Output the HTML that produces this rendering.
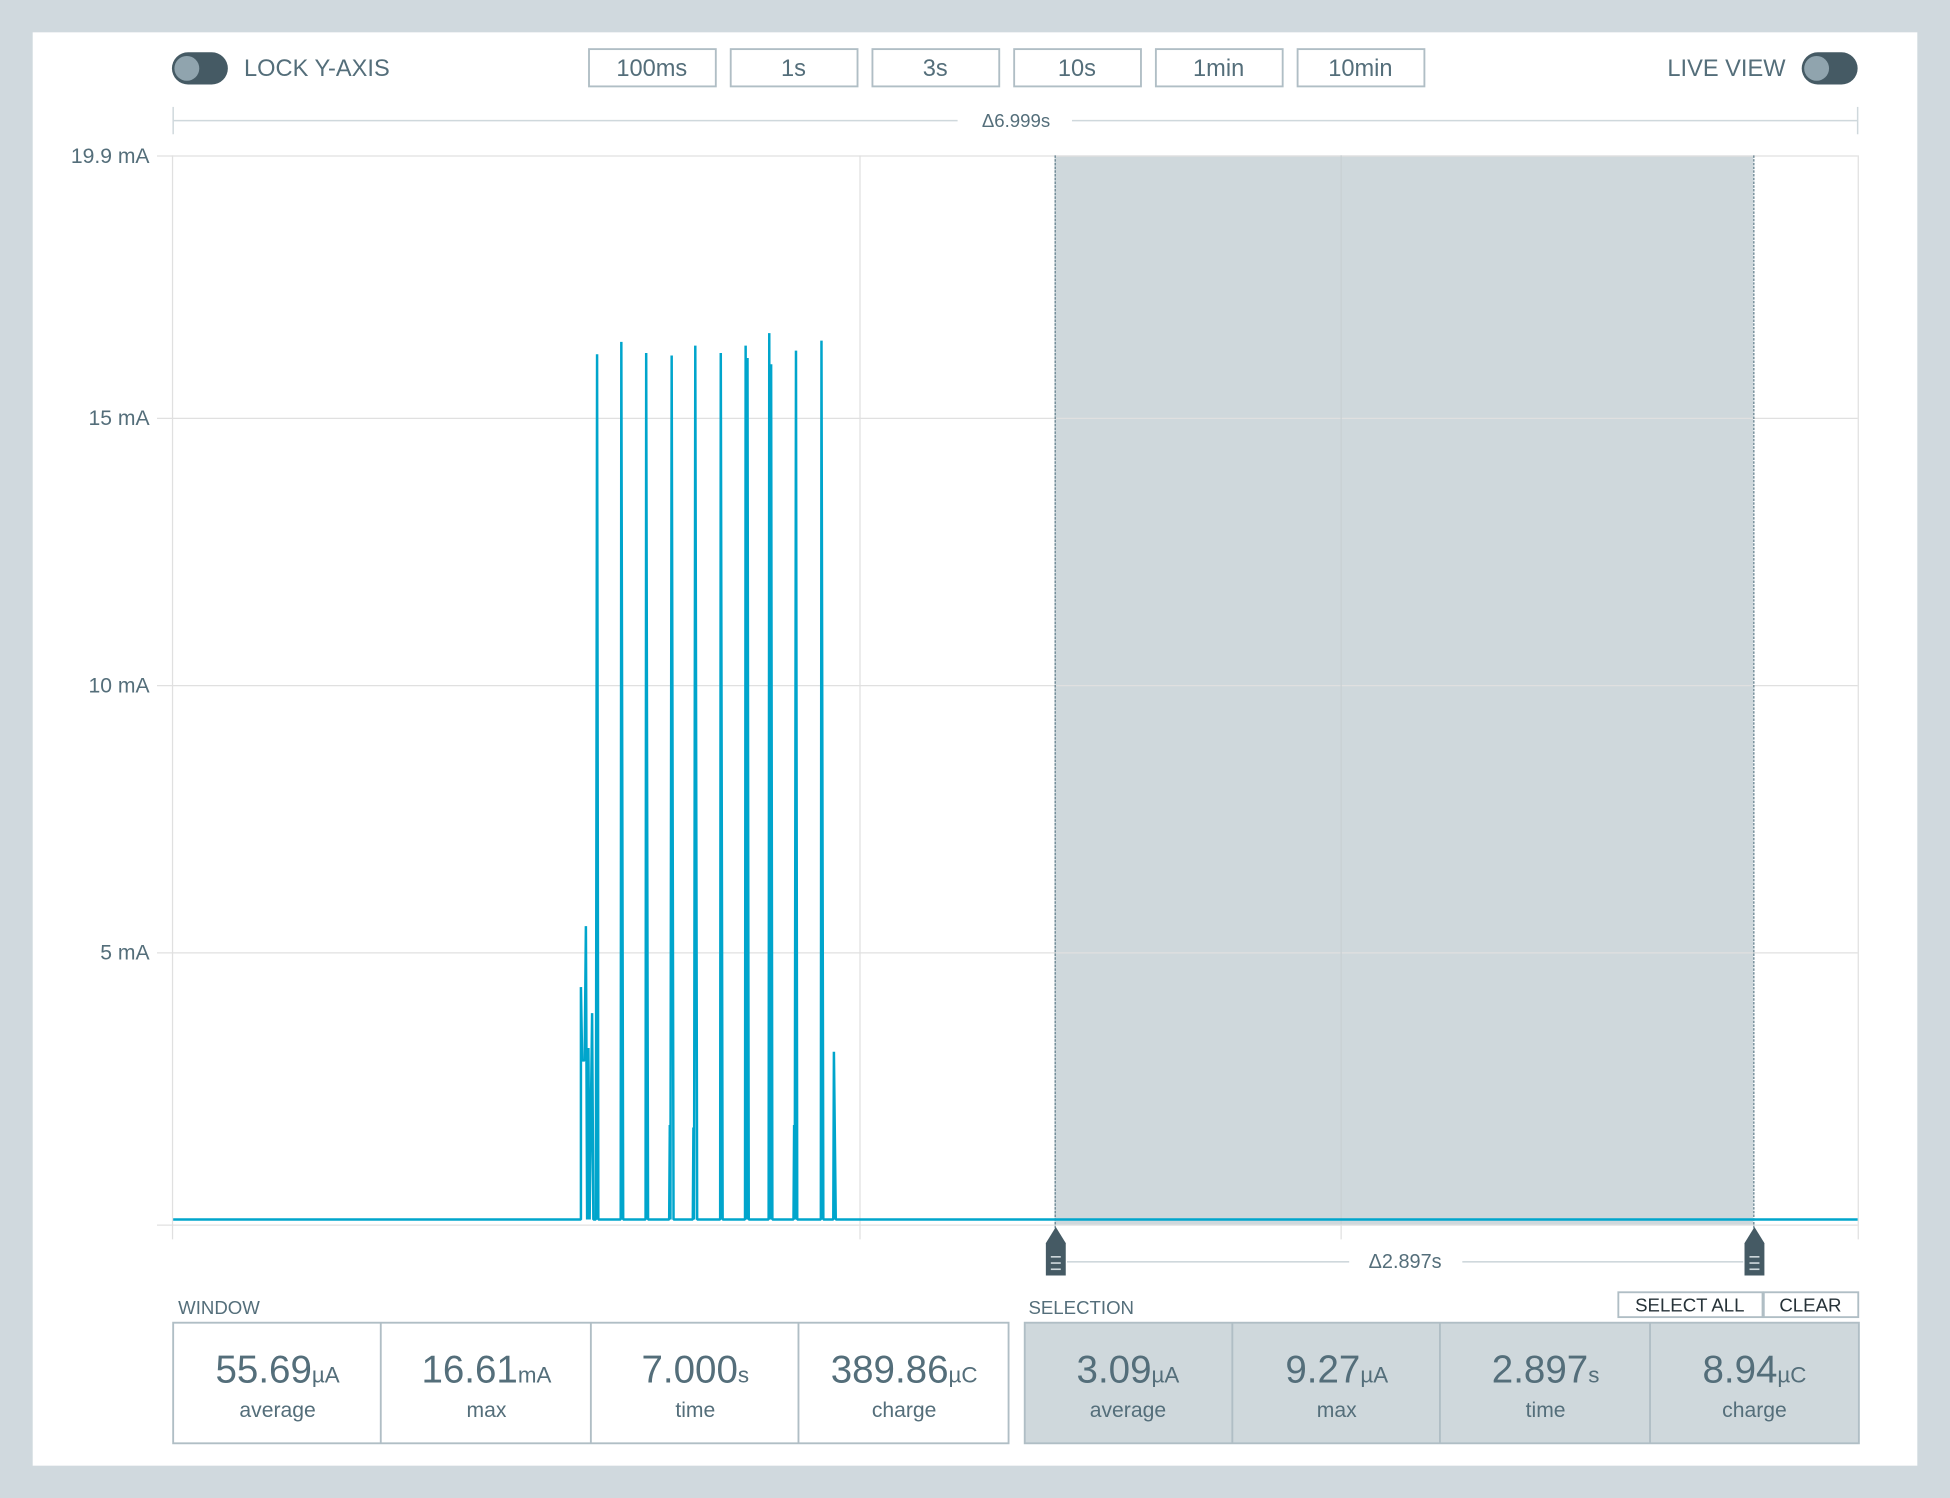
<!DOCTYPE html>
<html><head><style>html,body{margin:0;padding:0;background:#d0d9de}svg{display:block}text{font-family:"Liberation Sans",sans-serif}</style></head>
<body>
<svg width="1950" height="1498" viewBox="0 0 1568 1205" xmlns="http://www.w3.org/2000/svg">
<rect width="1568" height="1205" fill="#d0d9de"/>
<rect x="26" y="26" width="1516" height="1153" fill="#fff"/>
<!-- toggles -->
<rect x="138" y="42" width="45" height="26" rx="13" fill="#455a64"/>
<circle cx="150" cy="55" r="10" fill="#90a4ae"/>
<text x="196" y="61" font-size="19" fill="#546e7a">LOCK Y-AXIS</text>
<text x="1436" y="61" font-size="19" fill="#546e7a" text-anchor="end">LIVE VIEW</text>
<rect x="1449" y="42" width="45" height="26" rx="13" fill="#455a64"/>
<circle cx="1461" cy="55" r="10" fill="#90a4ae"/>
<g fill="#fff" stroke="#b0bec5" stroke-width="1.5">
<rect x="473.5" y="39.5" width="102" height="30"/><rect x="587.5" y="39.5" width="102" height="30"/>
<rect x="701.5" y="39.5" width="102" height="30"/><rect x="815.5" y="39.5" width="102" height="30"/>
<rect x="929.5" y="39.5" width="102" height="30"/><rect x="1043.5" y="39.5" width="102" height="30"/>
</g>
<g font-size="19" fill="#546e7a" text-anchor="middle">
<text x="524" y="61">100ms</text><text x="638" y="61">1s</text><text x="752" y="61">3s</text>
<text x="866" y="61">10s</text><text x="980" y="61">1min</text><text x="1094" y="61">10min</text>
</g>
<!-- delta top -->
<g stroke="#cfd8dc" stroke-width="1.2">
<line x1="139" y1="86" x2="139" y2="108"/><line x1="1494" y1="86" x2="1494" y2="108"/>
<line x1="139" y1="97" x2="770" y2="97"/><line x1="862" y1="97" x2="1494" y2="97"/>
</g>
<text x="817" y="102" font-size="15" fill="#546e7a" text-anchor="middle">Δ6.999s</text>
<!-- selection area -->
<rect x="848" y="125" width="562" height="860" fill="#cfd8dc"/>
<!-- grid -->
<g stroke="#e0e0e0" stroke-width="1">
<line x1="126" y1="125.5" x2="1494" y2="125.5"/><line x1="126" y1="336.5" x2="1494" y2="336.5"/>
<line x1="126" y1="551.5" x2="1494" y2="551.5"/><line x1="126" y1="766.5" x2="1494" y2="766.5"/>
<line x1="126" y1="985.5" x2="1494" y2="985.5"/>
<line x1="691.5" y1="125" x2="691.5" y2="997"/><line x1="1078.5" y1="125" x2="1078.5" y2="997"/>
<line x1="1494.5" y1="125" x2="1494.5" y2="997"/><line x1="138.5" y1="125" x2="138.5" y2="997"/>
</g>
<g stroke="#b0bec5" stroke-width="0.8" opacity="0.6"><line x1="1078.5" y1="125" x2="1078.5" y2="985"/></g>
<g stroke="#607d8b" stroke-width="1" stroke-dasharray="2,1"><line x1="848.5" y1="125" x2="848.5" y2="990"/><line x1="1410.5" y1="125" x2="1410.5" y2="990"/></g>
<g font-size="17" fill="#546e7a" text-anchor="end">
<text x="120" y="131">19.9 mA</text><text x="120" y="342">15 mA</text><text x="120" y="557">10 mA</text><text x="120" y="772">5 mA</text>
</g>
<!-- trace -->
<path fill="none" stroke="#00a5cc" stroke-width="2" stroke-linejoin="bevel" d="M139 981 L467 981 L467 794 L468 853 L470 853 L471 745 L472 981 L473 843 L474 981 L476 815 L477 981 L479 981 L480 285 L481 981 L499 981 L499.5 275 L501 981 L519 981 L519.5 284 L521 981 L538 981 L538.5 905 L539 981 L540 286 L541.5 981 L557 981 L557.5 907 L558 981 L559 278 L560.5 981 L579 981 L579.5 284 L581 981 L599 981 L599.5 278 L600.5 981 L601 288 L602 981 L618 981 L618.5 268 L619.5 981 L620 293 L621 981 L638 981 L638.5 905 L639 981 L640 282 L641 981 L660 981 L660.5 274 L662 981 L670 981 L670.5 846 L672 981 L1494 981"/>
<!-- handles -->
<g fill="#455a64">
<path d="M849 987 L857 1000 L857 1026 L841 1026 L841 1000 Z"/>
<path d="M1411 987 L1419 1000 L1419 1026 L1403 1026 L1403 1000 Z"/>
</g>
<g stroke="#cfd8dc" stroke-width="1.3">
<line x1="845" y1="1011" x2="853" y2="1011"/><line x1="845" y1="1016" x2="853" y2="1016"/><line x1="845" y1="1021" x2="853" y2="1021"/>
<line x1="1407" y1="1011" x2="1415" y2="1011"/><line x1="1407" y1="1016" x2="1415" y2="1016"/><line x1="1407" y1="1021" x2="1415" y2="1021"/>
<line x1="858" y1="1015" x2="1085" y2="1015"/><line x1="1176" y1="1015" x2="1402" y2="1015"/>
</g>
<text x="1130" y="1020" font-size="16" fill="#546e7a" text-anchor="middle">Δ2.897s</text>
<!-- labels -->
<text x="143" y="1057" font-size="15" fill="#546e7a">WINDOW</text>
<text x="827" y="1057" font-size="15" fill="#546e7a">SELECTION</text>
<rect x="1301.5" y="1039.5" width="116" height="20" fill="#fff" stroke="#b0bec5" stroke-width="1.5"/>
<rect x="1418.5" y="1039.5" width="76" height="20" fill="#fff" stroke="#b0bec5" stroke-width="1.5"/>
<text x="1359" y="1055" font-size="15" fill="#263238" text-anchor="middle">SELECT ALL</text>
<text x="1456" y="1055" font-size="15" fill="#263238" text-anchor="middle">CLEAR</text>
<!-- stat boxes -->
<rect x="139" y="1064" width="672" height="97" fill="#fff" stroke="#b0bec5" stroke-width="1.5"/>
<rect x="824" y="1064" width="671" height="97" fill="#cfd8dc" stroke="#b0bec5" stroke-width="1.5"/>
<g stroke="#b0bec5" stroke-width="1.5">
<line x1="306" y1="1064" x2="306" y2="1161"/><line x1="475" y1="1064" x2="475" y2="1161"/><line x1="642" y1="1064" x2="642" y2="1161"/>
<line x1="991" y1="1064" x2="991" y2="1161"/><line x1="1158" y1="1064" x2="1158" y2="1161"/><line x1="1327" y1="1064" x2="1327" y2="1161"/>
</g>
<g fill="#546e7a" text-anchor="middle">
<text x="223" y="1112" font-size="31">55.69<tspan font-size="18">µA</tspan></text>
<text x="391" y="1112" font-size="31">16.61<tspan font-size="18">mA</tspan></text>
<text x="559" y="1112" font-size="31">7.000<tspan font-size="18">s</tspan></text>
<text x="727" y="1112" font-size="31">389.86<tspan font-size="18">µC</tspan></text>
<text x="907" y="1112" font-size="31">3.09<tspan font-size="18">µA</tspan></text>
<text x="1075" y="1112" font-size="31">9.27<tspan font-size="18">µA</tspan></text>
<text x="1243" y="1112" font-size="31">2.897<tspan font-size="18">s</tspan></text>
<text x="1411" y="1112" font-size="31">8.94<tspan font-size="18">µC</tspan></text>
<g font-size="17">
<text x="223" y="1140">average</text><text x="391" y="1140">max</text><text x="559" y="1140">time</text><text x="727" y="1140">charge</text>
<text x="907" y="1140">average</text><text x="1075" y="1140">max</text><text x="1243" y="1140">time</text><text x="1411" y="1140">charge</text>
</g>
</g>
</svg>
</body></html>
